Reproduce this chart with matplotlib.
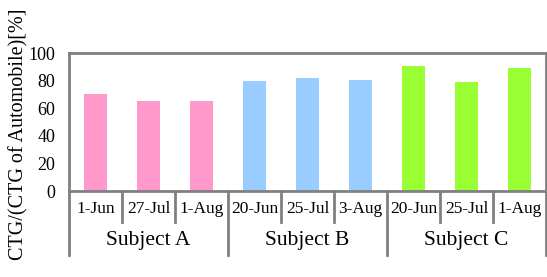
import matplotlib.pyplot as plt
import numpy as np

# data
subjects = ['Subject A', 'Subject B', 'Subject C']
dates = ['1-Jun', '27-Jul', '1-Aug', '20-Jun', '25-Jul', '3-Aug', '20-Jun', '25-Jul', '1-Aug']
values = [70, 65, 65, 80, 82, 80.5, 90.5, 79, 89]
colors = ['#FF99CC'] * 3 + ['#99CCFF'] * 3 + ['#99FF33'] * 3

plt.rcParams['font.family'] = ['Liberation Serif', 'DejaVu Serif']
gray = '#808080'

fig = plt.figure(figsize=(5.47, 2.77), dpi=100)
ax = fig.add_axes([69 / 547, 1 - 191 / 277, 477 / 547, 138 / 277])

x = np.arange(len(dates))
ax.bar(x, values, width=0.43, color=colors)
ax.set_xlim(-0.5, len(dates) - 0.5)
ax.set_ylim(0, 100)
ax.set_yticks([0, 20, 40, 60, 80, 100])
ax.tick_params(axis='y', length=0, labelsize=13, pad=10, labelcolor='black')
ax.set_xticks([])

for s in ax.spines.values():
    s.set_color(gray)
    s.set_linewidth(2)

trans = ax.get_xaxis_transform()
# category separators below the axis
for i in range(len(dates) + 1):
    xe = i - 0.5
    if i % 3 == 0:
        ax.plot([xe, xe], [0, -0.464], color=gray, lw=2, transform=trans, clip_on=False)
    else:
        ax.plot([xe, xe], [0, -0.225], color=gray, lw=2, transform=trans, clip_on=False)

for i, d in enumerate(dates):
    ax.text(i, -0.13, d, transform=trans, ha='center', va='center', fontsize=12.5)

for j, s in enumerate(subjects):
    ax.text(3 * j + 1, -0.36, s, transform=trans, ha='center', va='center', fontsize=15.5)

fig.text(19 / 547, 1 - 8 / 277, 'CTG/(CTG of Automobile)[%]', rotation=90,
         ha='center', va='top', fontsize=14.5)

plt.savefig('out.png', dpi=100)
